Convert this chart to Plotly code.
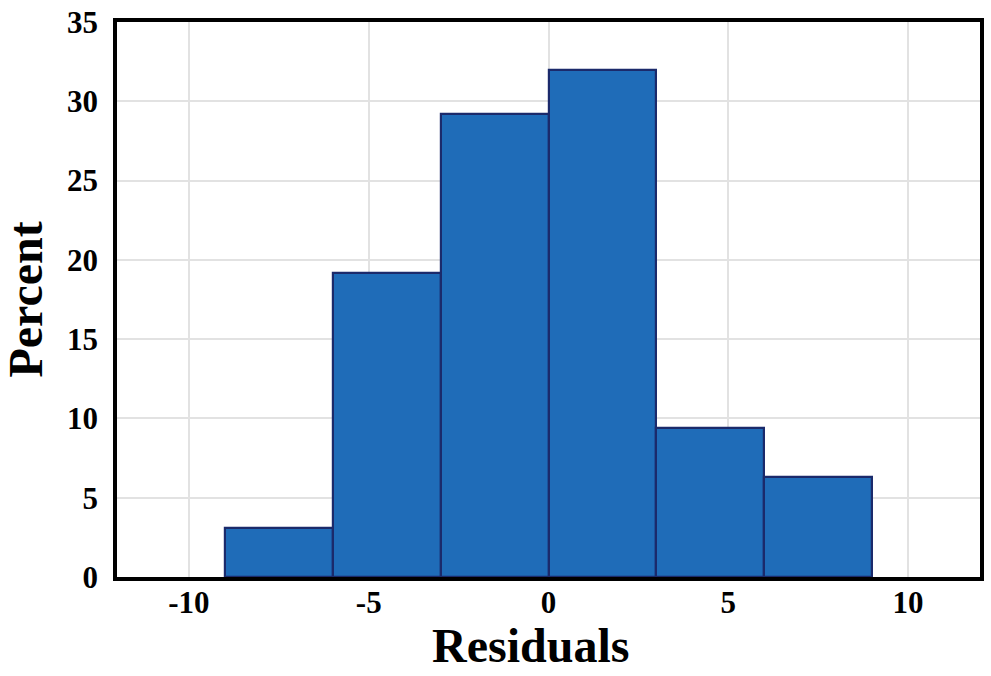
import plotly.graph_objects as go

bin_edges = [-9, -6, -3, 0, 3, 6, 9]
percent = [3.1, 19.2, 29.2, 32.0, 9.4, 6.3]
x_ticks = [-10, -5, 0, 5, 10]
y_ticks = [0, 5, 10, 15, 20, 25, 30, 35]

centers = [(bin_edges[i] + bin_edges[i + 1]) / 2 for i in range(len(percent))]
widths = [bin_edges[i + 1] - bin_edges[i] for i in range(len(percent))]

FONT = "Liberation Serif"

fig = go.Figure(
    go.Bar(
        x=centers,
        y=percent,
        width=widths,
        marker=dict(color="#1f6cb8", line=dict(color="#1b2a6b", width=2.2)),
        hoverinfo="skip",
    )
)

fig.update_layout(
    width=991,
    height=676,
    margin=dict(l=117, r=11, t=22, b=99, autoexpand=False),
    paper_bgcolor="white",
    plot_bgcolor="white",
    showlegend=False,
    bargap=0,
    font=dict(family=FONT, color="black"),
    annotations=[
        dict(
            text="<b>Percent</b>",
            xref="paper", yref="paper",
            x=-0.1065, y=0.5,
            xanchor="center", yanchor="middle",
            textangle=-90, showarrow=False,
            font=dict(family=FONT, size=48, color="black"),
        ),
        dict(
            text="<b>Residuals</b>",
            xref="paper", yref="paper",
            x=0.4786, y=-0.124,
            xanchor="center", yanchor="middle",
            showarrow=False,
            font=dict(family=FONT, size=48, color="black"),
        ),
    ],
)

fig.update_xaxes(
    range=[-12, 12],
    tickvals=x_ticks,
    ticktext=[str(v) for v in x_ticks],
    tickfont=dict(family=FONT, size=31, color="black", weight="bold"),
    showgrid=True, gridcolor="#e2e2e2", gridwidth=1.5,
    zeroline=False,
    showline=True, linecolor="black", linewidth=3.5, mirror=True,
    ticks="", ticklabelstandoff=-5,
)
fig.update_yaxes(
    range=[0, 35],
    tickvals=y_ticks,
    ticktext=[str(v) for v in y_ticks],
    tickfont=dict(family=FONT, size=31, color="black", weight="bold"),
    showgrid=True, gridcolor="#e2e2e2", gridwidth=1.5,
    zeroline=False,
    showline=True, linecolor="black", linewidth=3.5, mirror=True,
    ticks="", ticklabelstandoff=9,
)

fig.write_html(
    "out.html",
    config={"displayModeBar": False},
    post_script="document.body.style.margin='0';document.body.style.overflow='hidden';",
)
